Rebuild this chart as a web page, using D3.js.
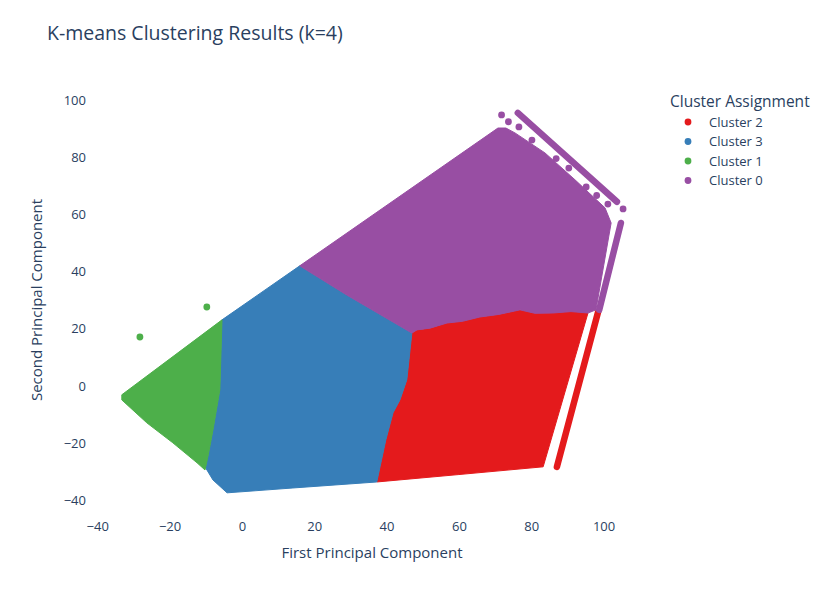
<!DOCTYPE html>
<html>
<head>
<meta charset="utf-8">
<script src="https://cdn.jsdelivr.net/npm/d3@7"></script>
<style>
  body { margin: 0; background: #fff; }
  svg { font-family: "Open Sans", "DejaVu Sans", sans-serif; }
</style>
</head>
<body>
<svg id="chart" width="828" height="594"></svg>
<script>
// ---------- data ----------
const clusterNames = ["Cluster 2", "Cluster 3", "Cluster 1", "Cluster 0"];
const clusterColors = ["#e41a1c", "#377eb8", "#4daf4a", "#984ea3"];

const xTicks = [-40, -20, 0, 20, 40, 60, 80, 100];
const yTicks = [-40, -20, 0, 20, 40, 60, 80, 100];

// outline of the dense point cloud of each cluster (PC1, PC2)
const outlineCluster2 = [[47.0,18.5],[48.4,19.6],[52.0,20.2],[56.7,22.0],[61.0,22.6],[65.8,24.1],[71.0,25.0],[76.9,26.6],[81.0,25.4],[86.0,25.5],[91.0,26.0],[95.7,25.5],[83.3,-28.3],[60.0,-31.0],[37.3,-33.6],[38.2,-28.3],[39.8,-18.9],[41.8,-9.4],[43.7,-4.9],[45.6,2.1],[46.5,12.6]];
const outlineCluster3 = [[-5.5,23.1],[16.0,42.0],[29.0,31.8],[47.0,18.5],[46.5,12.6],[45.6,2.1],[43.7,-4.9],[41.8,-9.4],[39.8,-18.9],[38.2,-28.3],[37.3,-33.6],[14.1,-35.7],[-4.1,-37.4],[-8.0,-32.9],[-10.2,-28.3],[-9.4,-24.8],[-8.0,-15.4],[-6.1,-1.4]];
const outlineCluster1 = [[-33.2,-3.1],[-5.5,23.1],[-6.1,-1.4],[-8.0,-15.4],[-9.4,-24.8],[-10.2,-29.4],[-12.4,-26.9],[-19.1,-19.9],[-26.3,-12.9],[-33.2,-4.9]];
const outlineCluster0 = [[16.0,42.0],[70.8,90.2],[73.0,90.2],[75.5,88.5],[83.8,81.5],[92.1,72.1],[100.4,62.3],[102.1,57.0],[97.9,26.6],[95.7,25.5],[91.0,26.0],[86.0,25.5],[81.0,25.4],[76.9,26.6],[71.0,25.0],[65.8,24.1],[61.0,22.6],[56.7,22.0],[52.0,20.2],[48.4,19.6],[47.0,18.5],[29.0,31.8]];

// thin stripes of points along the outer edge [x1,y1,x2,y2]
const stripesCluster2 = [[98.5,25.9,87.1,-28.3]];
const stripesCluster0 = [[76.3,95.5,103.7,64.4],[104.8,57.0,98.8,26.6]];

// isolated points
const pointsCluster1 = [[-28.2,17.1],[-9.7,27.6]];
const pointsCluster0 = [[71.8,94.8],[73.7,92.4],[76.6,90.6],[80.2,86.0],[86.9,79.5],[90.4,76.2],[95.2,69.6],[98.1,66.6],[101.2,63.6],[105.4,61.9]];

const outlines = [outlineCluster2, outlineCluster3, outlineCluster1, outlineCluster0];
const stripes = [stripesCluster2, [], [], stripesCluster0];
const points = [[], [], pointsCluster1, pointsCluster0];

// ---------- layout ----------
const svg = d3.select("#chart");
const textColor = "#2a3f5f";
const x = d3.scaleLinear().domain([-42.0, 113.4]).range([90, 652]);
const y = d3.scaleLinear().domain([-44.8, 104.9]).range([514, 86]);
const fmt = d3.format("");

// title
svg.append("text").attr("x", 47).attr("y", 40)
  .attr("font-size", 19.5).attr("fill", textColor)
  .text("K-means Clustering Results (k=4)");

// axes (tick labels only)
const gx = svg.append("g").attr("transform", "translate(0,514)")
  .call(d3.axisBottom(x).tickValues(xTicks).tickSize(0).tickPadding(8).tickFormat(fmt));
gx.select(".domain").remove();
gx.selectAll("text").attr("font-size", 13).attr("fill", textColor).attr("font-family", "Open Sans");

const gy = svg.append("g").attr("transform", "translate(90,0)")
  .call(d3.axisLeft(y).tickValues(yTicks).tickSize(0).tickPadding(4).tickFormat(fmt));
gy.select(".domain").remove();
gy.selectAll("text").attr("font-size", 13).attr("fill", textColor).attr("font-family", "Open Sans");

// axis titles
svg.append("text").attr("x", 372).attr("y", 558).attr("text-anchor", "middle")
  .attr("font-size", 15).attr("fill", textColor).text("First Principal Component");
svg.append("text").attr("transform", "translate(42,300) rotate(-90)").attr("text-anchor", "middle")
  .attr("font-size", 15).attr("fill", textColor).text("Second Principal Component");

// marks
const line = d3.line().x(d => x(d[0])).y(d => y(d[1]));
const plot = svg.append("g");
clusterNames.forEach((name, i) => {
  const g = plot.append("g");
  g.append("path").attr("d", line(outlines[i]) + "Z")
    .attr("fill", clusterColors[i]).attr("stroke", clusterColors[i])
    .attr("stroke-width", 1).attr("stroke-linejoin", "round");
  g.selectAll("line.s").data(stripes[i]).join("line")
    .attr("x1", d => x(d[0])).attr("y1", d => y(d[1]))
    .attr("x2", d => x(d[2])).attr("y2", d => y(d[3]))
    .attr("stroke", clusterColors[i]).attr("stroke-width", 6.5).attr("stroke-linecap", "round");
  g.selectAll("circle").data(points[i]).join("circle")
    .attr("cx", d => x(d[0])).attr("cy", d => y(d[1])).attr("r", 3.4)
    .attr("fill", clusterColors[i]);
});

// legend
const lg = svg.append("g");
lg.append("text").attr("x", 670).attr("y", 107).attr("font-size", 15.5).attr("fill", textColor)
  .text("Cluster Assignment");
clusterNames.forEach((name, i) => {
  const yy = 122 + i * 19.5;
  lg.append("circle").attr("cx", 688).attr("cy", yy).attr("r", 3.4).attr("fill", clusterColors[i]);
  lg.append("text").attr("x", 709).attr("y", yy + 4.7).attr("font-size", 13).attr("fill", textColor).text(name);
});
</script>
</body>
</html>
